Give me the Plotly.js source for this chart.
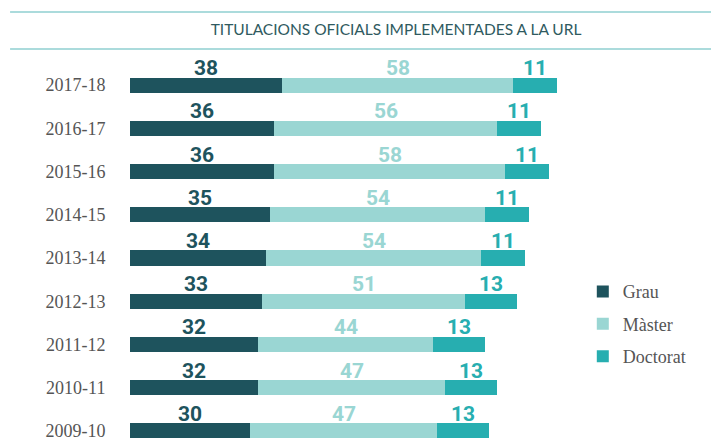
<!DOCTYPE html>
<html>
<head>
<meta charset="utf-8">
<script src="https://cdn.plot.ly/plotly-3.0.1.min.js"></script>
<style>html,body{margin:0;padding:0;background:#fff;}#chart{width:711px;height:440px;}</style>
</head>
<body>
<div id="chart"></div>
<script>
const years = ['2017-18','2016-17','2015-16','2014-15','2013-14','2012-13','2011-12','2010-11','2009-10'];
const grau = [38,36,36,35,34,33,32,32,30];
const master = [58,56,58,54,54,51,44,47,47];
const doctorat = [11,11,11,11,11,13,13,13,13];
const seriesNames = ['Grau','Màster','Doctorat'];
const colors = ['#1e535d','#9ad6d3','#27aeb0'];
const chartTitle = 'TITULACIONS OFICIALS IMPLEMENTADES A LA URL';

const allSeries = [grau, master, doctorat];
const traces = allSeries.map((vals, i) => ({
  type: 'bar', orientation: 'h', name: seriesNames[i],
  y: years, x: vals, width: 0.35,
  marker: {color: colors[i]},
  legendgroup: 'g' + i,
  hoverinfo: 'skip'
}));

const annotations = [];
years.forEach((yr, r) => {
  let cum = 0;
  allSeries.forEach((vals, i) => {
    const mid = cum + vals[r] / 2;
    cum += vals[r];
    annotations.push({
      x: mid, y: yr, xref: 'x', yref: 'y', text: String(vals[r]),
      showarrow: false, yshift: 17,
      font: {family: 'Roboto, sans-serif', size: 21, weight: 'bold', color: colors[i]}
    });
  });
});

const layout = {
  width: 711, height: 440,
  margin: {l: 130, r: 10, t: 60, b: 0},
  paper_bgcolor: '#fff', plot_bgcolor: '#fff',
  barmode: 'stack',
  title: {
    text: chartTitle, xref: 'container', yref: 'container',
    x: 0.557, xanchor: 'center', y: 1 - 30/440, yanchor: 'middle',
    font: {family: 'Lato, sans-serif', size: 15.5, color: '#2f5a60'}
  },
  xaxis: {range: [0, 143], visible: false, fixedrange: true},
  yaxis: {
    type: 'category', range: [8.21, -0.58],
    showgrid: false, zeroline: false, showline: false,
    ticks: 'outside', ticklen: 20, tickcolor: 'rgba(0,0,0,0)',
    tickfont: {family: 'Liberation Serif, serif', size: 18, color: '#555'}
  },
  showlegend: true,
  legend: {
    x: 0.793, xanchor: 'left', y: 0.439, yanchor: 'top',
    traceorder: 'grouped', tracegroupgap: 6,
    font: {family: 'Liberation Serif, serif', size: 18, color: '#555'},
    bgcolor: 'rgba(0,0,0,0)'
  },
  shapes: [
    {type: 'line', xref: 'paper', yref: 'paper', x0: -0.21, x1: 1.02, y0: (440-12)/380, y1: (440-12)/380,
     line: {color: '#8fcfd0', width: 1.5}},
    {type: 'line', xref: 'paper', yref: 'paper', x0: -0.21, x1: 1.02, y0: (440-49)/380, y1: (440-49)/380,
     line: {color: '#8fcfd0', width: 1.5}}
  ],
  annotations: annotations
};

Plotly.newPlot('chart', traces, layout, {displayModeBar: false, staticPlot: true});
</script>
</body>
</html>
